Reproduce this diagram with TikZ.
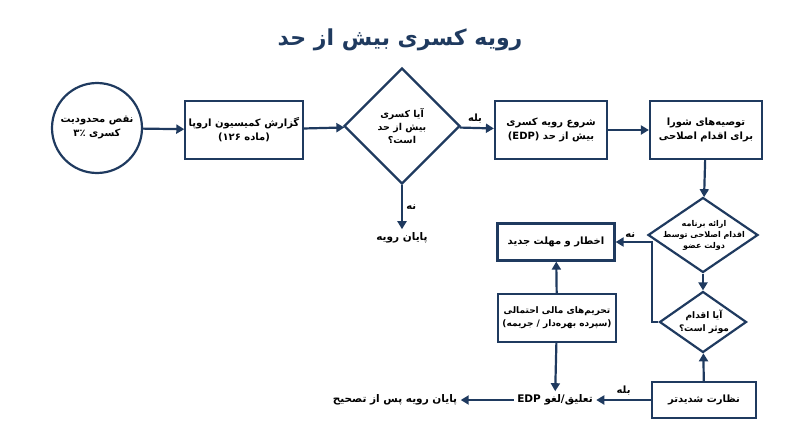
\documentclass[tikz,border=0pt]{standalone}
\usepackage{fontspec}
\setmainfont{DejaVu Sans}
\newfontfamily\fafont[Script=Arabic]{DejaVu Sans}
\usetikzlibrary{shapes.geometric,arrows.meta}
\TeXXeTstate=1
\newcommand{\fa}[1]{{\fafont\beginR #1\endR}}
\definecolor{navy}{HTML}{1F3A5F}

\begin{document}
\begin{tikzpicture}[x=1pt,y=-1pt,
  box/.style={draw=navy,line width=2.2pt,fill=white,minimum width=112pt,minimum height=58pt,align=center,font=\fontsize{10}{14}\selectfont\bfseries},
  dia/.style={draw=navy,line width=2.2pt,fill=white,diamond,inner sep=0pt},
  txt/.style={align=center,font=\fontsize{10.5}{14}\selectfont\bfseries},
  small/.style={align=center,font=\fontsize{9.5}{13}\selectfont\bfseries},
  lab/.style={font=\fontsize{10}{13}\selectfont\bfseries},
  arr/.style={draw=navy,line width=2.2pt,-{Triangle[length=8pt,width=9pt]}}]
\useasboundingbox (0,0) rectangle (800,447);
\node[font=\fontsize{22}{26}\selectfont\bfseries,text=navy] (title) at (400,40) {\fa{رویه کسری بیش از حد}};
% top row
\node[draw=navy,line width=2.2pt,circle,minimum size=90pt,align=center,font=\fontsize{10}{14}\selectfont\bfseries] (limit) at (97,128) {\fa{نقص محدودیت}\\\fa{کسری ۳٪}};
\node[box] (report) at (244,130) {\fa{گزارش کمیسیون اروپا}\\\fa{(ماده ۱۲۶)}};
\node[dia,minimum width=116pt,minimum height=116pt] (excess) at (402,126) {};
\node[small] at (402,126) {\fa{آیا کسری}\\\fa{بیش از حد}\\\fa{است؟}};
\node[box] (start) at (551,130) {\fa{شروع رویه کسری}\\\fa{بیش از حد (EDP)}};
\node[box] (council) at (706,130) {\fa{توصیه‌های شورا}\\\fa{برای اقدام اصلاحی}};
\node[txt] (end1) at (402,238) {\fa{پایان رویه}};
% right column
\node[dia,minimum width=110pt,minimum height=75pt] (plan) at (703,235) {};
\node[small,font=\fontsize{8}{11}\selectfont\bfseries] at (704,235) {\fa{ارائه برنامه}\\\fa{اقدام اصلاحی توسط}\\\fa{دولت عضو}};
\node[dia,minimum width=87pt,minimum height=61pt] (effect) at (703,322) {};
\node[small,font=\fontsize{9}{12.5}\selectfont\bfseries] at (704,322) {\fa{آیا اقدام}\\\fa{موثر است؟}};
\node[box,minimum width=104pt,minimum height=36pt] (monitor) at (704,400) {\fa{نظارت شدیدتر}};
% left column
\node[box,minimum width=117pt,minimum height=37pt] (warn) at (556,242) {\fa{اخطار و مهلت جدید}};
\node[box,minimum width=118pt,minimum height=48pt,font=\fontsize{9}{13}\selectfont\bfseries] (sanction) at (557,318) {\fa{تحریم‌های مالی احتمالی}\\\fa{(سپرده بهره‌دار / جریمه)}};
\node[txt] (suspend) at (555,400) {\fa{تعلیق/لغو EDP}};
\node[txt] (end2) at (395,400) {\fa{پایان رویه پس از تصحیح}};
\coordinate (bend) at (652,322);
% connectors
\draw[arr] (limit) -- (report);
\draw[arr] (report) -- (excess);
\draw[arr] (excess) -- node[lab,above,pos=0.45] {\fa{بله}} (start);
\draw[arr] (start) -- (council);
\draw[arr] (excess.south) -- node[lab,right] {\fa{نه}} (end1);
\draw[arr] (council) -- (plan);
\draw[arr] (plan) -- (effect);
\draw[arr] (monitor) -- (effect);
\draw[arr] (effect.west) -- (bend) |- node[lab,above,pos=0.8] {\fa{نه}} (warn.east);
\draw[arr] (sanction) -- (warn);
\draw[arr] (sanction) -- (suspend);
\draw[arr] (monitor) -- node[lab,above] {\fa{بله}} (suspend);
\draw[arr] (suspend) -- (end2);
\end{tikzpicture}
\end{document}
